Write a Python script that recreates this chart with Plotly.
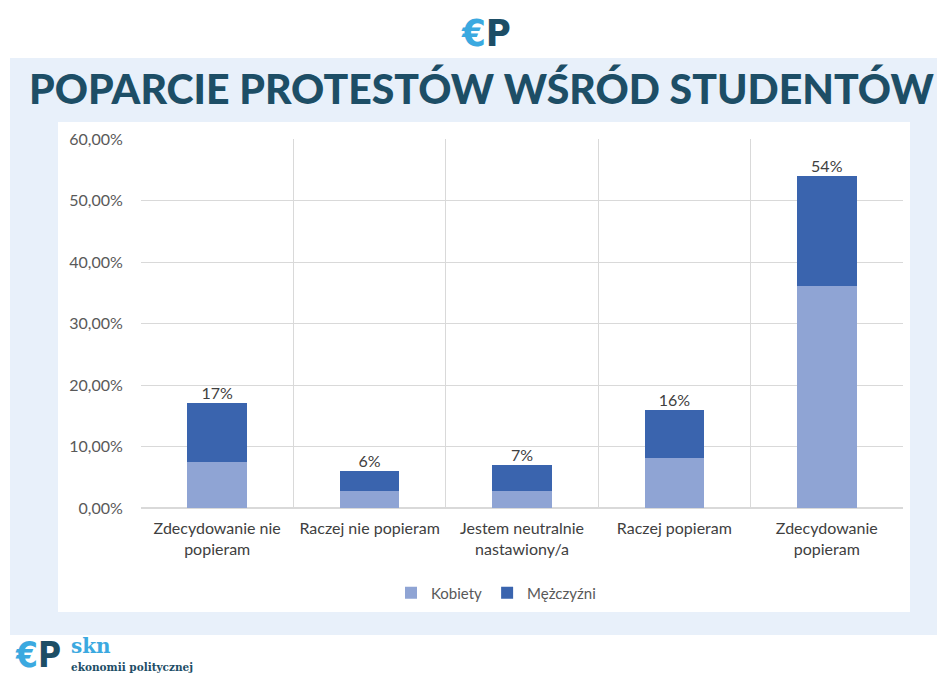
import plotly.graph_objects as go

categories = ["Zdecydowanie nie<br>popieram", "Raczej nie popieram", "Jestem neutralnie<br>nastawiony/a",
              "Raczej popieram", "Zdecydowanie<br>popieram"]
kobiety = [7.5, 2.8, 2.8, 8.2, 36.1]
mezczyzni = [9.5, 3.2, 4.2, 7.8, 17.9]
total_labels = ["17%", "6%", "7%", "16%", "54%"]
y_ticks = [0, 10, 20, 30, 40, 50, 60]
y_tick_labels = ["0,00%", "10,00%", "20,00%", "30,00%", "40,00%", "50,00%", "60,00%"]

OFF = 8  # page body margin
W, H = 945, 675
L, R, T, B = 141, 903, 139, 508  # plot area in screen px


def px(x, y):
    return (x - L) / (R - L), (B - y) / (B - T)


xs = list(range(len(categories)))
totals = [k + m for k, m in zip(kobiety, mezczyzni)]

fig = go.Figure()
fig.add_trace(go.Bar(x=xs, y=kobiety, name="Kobiety", marker_color="#8FA4D4", width=0.39,
                     marker_line_width=0))
fig.add_trace(go.Bar(x=xs, y=mezczyzni, name="Mężczyźni", marker_color="#3A64AE", width=0.39,
                     marker_line_width=0))
fig.add_trace(go.Scatter(x=xs, y=totals, text=total_labels, mode="text", textposition="top center",
                         textfont=dict(family="Lato", size=16, color="#404040"), showlegend=False,
                         hoverinfo="skip"))

shapes = []
x0, y0 = px(10, 58)
x1, y1 = px(945, 635)
shapes.append(dict(type="rect", xref="paper", yref="paper", x0=x0, y0=y0, x1=x1, y1=y1,
                   fillcolor="#E8F0FA", line_width=0, layer="below"))
x0, y0 = px(58, 122)
x1, y1 = px(910, 612)
shapes.append(dict(type="rect", xref="paper", yref="paper", x0=x0, y0=y0, x1=x1, y1=y1,
                   fillcolor="#FFFFFF", line_width=0, layer="below"))

annotations = []


def ann(text, x, y, size, color, family="Lato", xanchor="center", yanchor="middle", weight=None):
    ax, ay = px(x, y)
    f = dict(family=family, size=size, color=color)
    if weight:
        f["weight"] = weight
    annotations.append(dict(text=text, x=ax, y=ay, xref="paper", yref="paper", showarrow=False,
                            xanchor=xanchor, yanchor=yanchor, font=f))


LOGO = "<b><span style='color:#3BA9E0'>€</span>P</b>"

ann("POPARCIE PROTESTÓW WŚRÓD STUDENTÓW", 481, 88, 41, "#1D4E66", weight=900)
# top logo
ann(LOGO, 486, 33, 38, "#1D4E66", family="DejaVu Sans Condensed")
# bottom logo
ann(LOGO, 38, 655, 35, "#1D4E66", family="DejaVu Sans Condensed")
ann("<b>skn</b>", 69, 660, 20, "#3BA9E0", family="DejaVu Serif", xanchor="left", yanchor="bottom")
ann("<b>ekonomii politycznej</b>", 69, 667, 10.5, "#1D4E66", family="DejaVu Serif", xanchor="left")

lgx, lgy = px(496, 593)

fig.update_layout(
    width=W - OFF, height=H - OFF,
    margin=dict(l=L - OFF, r=W - R, t=T - OFF, b=H - B, pad=0),
    paper_bgcolor="white", plot_bgcolor="rgba(0,0,0,0)",
    barmode="stack",
    shapes=shapes, annotations=annotations,
    font=dict(family="Lato", size=15, color="#595959"),
    legend=dict(orientation="h", x=lgx, y=lgy, xanchor="center", yanchor="middle",
                font=dict(family="Lato", size=15, color="#595959"), bgcolor="rgba(0,0,0,0)",
                traceorder="normal"),
    xaxis=dict(range=[-0.5, 4.5], tickvals=xs, ticktext=categories, showgrid=False, zeroline=False,
               showline=False, ticks="outside", ticklen=6, tickcolor="rgba(0,0,0,0)",
               tickfont=dict(family="Lato", size=16, color="#404040"),
               minor=dict(tick0=-0.5, dtick=1, showgrid=True, gridcolor="#D9D9D9", gridwidth=1, ticks="")),
    yaxis=dict(range=[0, 60], tickvals=y_ticks, ticktext=y_tick_labels, showgrid=True,
               gridcolor="#D9D9D9", gridwidth=1, zeroline=True, zerolinecolor="#D9D9D9", showline=False,
               ticks="outside", ticklen=14, tickcolor="rgba(0,0,0,0)",
               tickfont=dict(family="Lato", size=16, color="#595959")),
)

fig.write_html("out.html")
